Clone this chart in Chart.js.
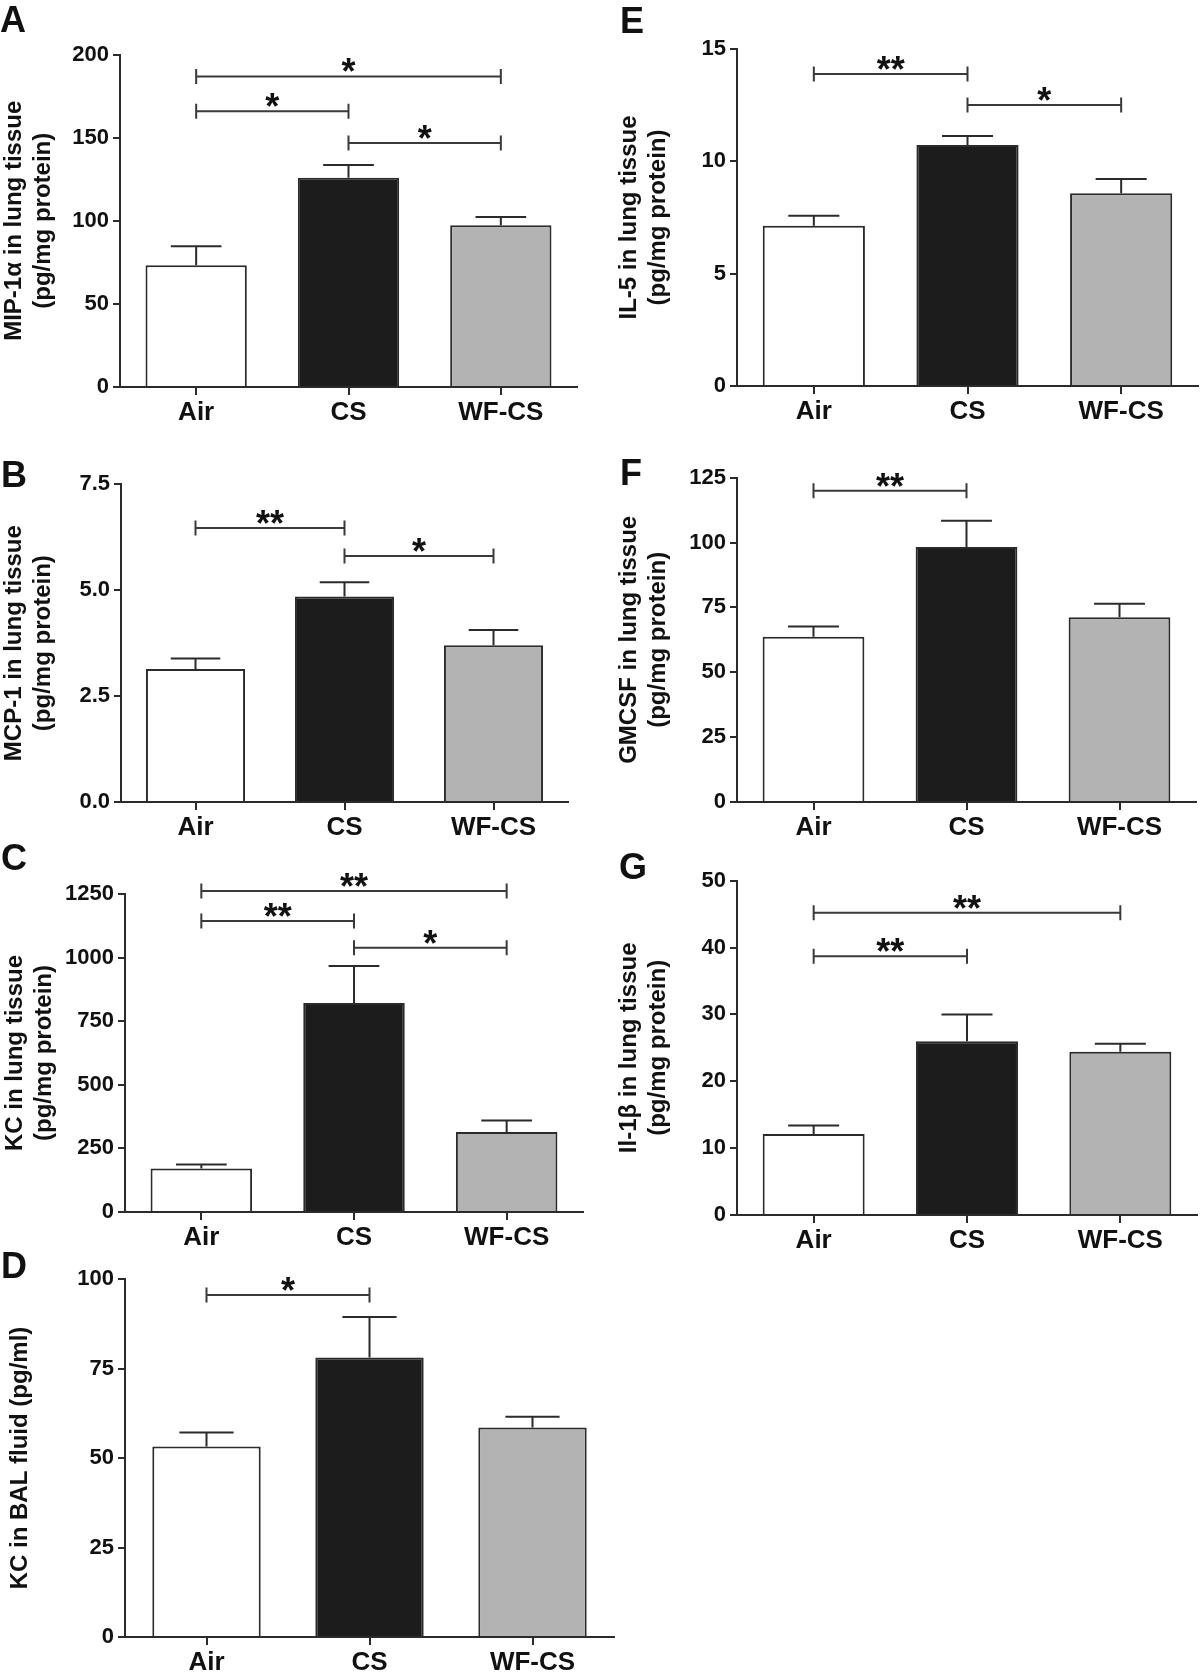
<!DOCTYPE html>
<html>
<head>
<meta charset="utf-8">
<script src="https://cdn.jsdelivr.net/npm/chart.js@4.4.1/dist/chart.umd.min.js"></script>
<style>
  body { margin: 0; background: #fff; }
  #fig { position: relative; width: 1200px; height: 1675px; overflow: hidden; font-family: "Liberation Sans", Arial, sans-serif; }
  #fig canvas { position: absolute; }
  .tag { position: absolute; font-weight: bold; font-size: 36px; line-height: 36px; color: #111; }
</style>
</head>
<body>
<div id="fig"></div>
<script>
const groups = ['Air', 'CS', 'WF-CS'];
const barColors = ['#ffffff', '#1c1c1c', '#b3b3b3'];

// A - MIP-1a
const mipMean = [73.2, 125.8, 97.3];
const mipSem = [11.5, 7.8, 5.0];
const mipTicks = [0, 50, 100, 150, 200];
const mipSig = [[186.8, 0, 2, '*'], [165.9, 0, 1, '*'], [146.8, 1, 2, '*']];

// B - MCP-1
const mcpMean = [3.14, 4.85, 3.70];
const mcpSem = [0.25, 0.34, 0.36];
const mcpTicks = [0, 2.5, 5, 7.5];
const mcpSig = [[6.47, 0, 1, '**'], [5.81, 1, 2, '*']];

// C - KC lung
const kcMean = [171, 822, 314];
const kcSem = [16, 145, 46];
const kcTicks = [0, 250, 500, 750, 1000, 1250];
const kcSig = [[1262, 0, 2, '**'], [1144, 0, 1, '**'], [1039, 1, 2, '*']];

// D - KC BAL
const balMean = [53.2, 78.1, 58.5];
const balSem = [3.9, 11.3, 3.0];
const balTicks = [0, 25, 50, 75, 100];
const balSig = [[95.5, 0, 1, '*']];

// E - IL-5
const il5Mean = [7.13, 10.73, 8.58];
const il5Sem = [0.45, 0.40, 0.63];
const il5Ticks = [0, 5, 10, 15];
const il5Sig = [[13.89, 0, 1, '**'], [12.51, 1, 2, '*']];

// F - GMCSF
const gmMean = [63.7, 98.3, 71.2];
const gmSem = [3.9, 10.1, 5.2];
const gmTicks = [0, 25, 50, 75, 100, 125];
const gmSig = [[120.0, 0, 1, '**']];

// G - IL-1b
const il1Mean = [12.1, 26.0, 24.4];
const il1Sem = [1.3, 4.0, 1.2];
const il1Ticks = [0, 10, 20, 30, 40, 50];
const il1Sig = [[45.2, 0, 2, '**'], [38.7, 0, 1, '**']];

const ink = '#111';
const lineCol = '#2b2b2b';
Chart.defaults.font.family = "'Liberation Sans', Arial, sans-serif";

const panels = [
  { tag: 'A', tagX: 0, tagY: 2, title: ['MIP-1\u03b1 in lung tissue', '(pg/mg protein)'], mean: mipMean, sem: mipSem, ticks: mipTicks, sig: mipSig, dec: 0,
    left: 0, axisX: 120, xEnd: 577, top: 54.5, zero: 386.5, titlePad: 0 },
  { tag: 'B', tagX: 1, tagY: 457, title: ['MCP-1 in lung tissue', '(pg/mg protein)'], mean: mcpMean, sem: mcpSem, ticks: mcpTicks, sig: mcpSig, dec: 1,
    left: 0, axisX: 121, xEnd: 568, top: 484.3, zero: 802.3, titlePad: 0 },
  { tag: 'C', tagX: 1, tagY: 840, title: ['KC in lung tissue', '(pg/mg protein)'], mean: kcMean, sem: kcSem, ticks: kcTicks, sig: kcSig, dec: 0,
    left: 0, axisX: 125, xEnd: 583, top: 894, zero: 1211.7, titlePad: 1 },
  { tag: 'D', tagX: 1, tagY: 1248, title: 'KC in BAL fluid (pg/ml)', mean: balMean, sem: balSem, ticks: balTicks, sig: balSig, dec: 0,
    left: 0, axisX: 125, xEnd: 614, top: 1279, zero: 1637.3, titlePad: 6 },
  { tag: 'E', tagX: 620, tagY: 3, title: ['IL-5 in lung tissue', '(pg/mg protein)'], mean: il5Mean, sem: il5Sem, ticks: il5Ticks, sig: il5Sig, dec: 0,
    left: 600, axisX: 737, xEnd: 1198, top: 49, zero: 386, titlePad: 15 },
  { tag: 'F', tagX: 620, tagY: 455, title: ['GMCSF in lung tissue', '(pg/mg protein)'], mean: gmMean, sem: gmSem, ticks: gmTicks, sig: gmSig, dec: 0,
    left: 600, axisX: 737, xEnd: 1196, top: 477.7, zero: 802.3, titlePad: 15 },
  { tag: 'G', tagX: 619, tagY: 849, title: ['Il-1\u03b2 in lung tissue', '(pg/mg protein)'], mean: il1Mean, sem: il1Sem, ticks: il1Ticks, sig: il1Sig, dec: 0,
    left: 600, axisX: 737, xEnd: 1197, top: 880.7, zero: 1215, titlePad: 15 }
];

// upper error bars with a cap half as wide as the bar
const errorBars = {
  id: 'errorBars',
  afterDatasetsDraw(chart, args, opts) {
    const ctx = chart.ctx, y = chart.scales.y;
    const meta = chart.getDatasetMeta(0);
    ctx.save();
    ctx.strokeStyle = lineCol;
    ctx.lineWidth = 2;
    meta.data.forEach((bar, i) => {
      const v = chart.data.datasets[0].data[i] + opts.sem[i];
      const yt = y.getPixelForValue(v);
      const half = bar.width / 4;
      ctx.beginPath();
      ctx.moveTo(bar.x, bar.y);
      ctx.lineTo(bar.x, yt);
      ctx.moveTo(bar.x - half, yt);
      ctx.lineTo(bar.x + half, yt);
      ctx.stroke();
    });
    ctx.restore();
  }
};

// significance brackets with stars
const brackets = {
  id: 'brackets',
  afterDraw(chart, args, opts) {
    const ctx = chart.ctx, x = chart.scales.x, y = chart.scales.y;
    ctx.save();
    ctx.strokeStyle = '#3a3a3a';
    ctx.lineWidth = 2;
    ctx.fillStyle = ink;
    ctx.font = "bold 36px 'Liberation Sans', Arial, sans-serif";
    ctx.textAlign = 'center';
    ctx.textBaseline = 'alphabetic';
    opts.sig.forEach(s => {
      const yy = y.getPixelForValue(s[0]);
      const x1 = x.getPixelForValue(s[1]);
      const x2 = x.getPixelForValue(s[2]);
      ctx.beginPath();
      ctx.moveTo(x1, yy); ctx.lineTo(x2, yy);
      ctx.moveTo(x1, yy - 7.5); ctx.lineTo(x1, yy + 7.5);
      ctx.moveTo(x2, yy - 7.5); ctx.lineTo(x2, yy + 7.5);
      ctx.stroke();
      const m = ctx.measureText(s[3]);
      ctx.fillText(s[3], (x1 + x2) / 2, yy - 4 - m.actualBoundingBoxDescent);
    });
    ctx.restore();
  }
};

const fig = document.getElementById('fig');

panels.forEach(p => {
  const cTop = Math.round(p.top - 52);
  const cBottom = Math.round(p.zero + 46);
  const w = p.xEnd - p.left + 2;
  const h = cBottom - cTop;
  const canvas = document.createElement('canvas');
  canvas.width = w; canvas.height = h;
  canvas.style.left = p.left + 'px';
  canvas.style.top = cTop + 'px';
  canvas.style.width = w + 'px';
  canvas.style.height = h + 'px';
  fig.appendChild(canvas);

  const tag = document.createElement('div');
  tag.className = 'tag';
  tag.textContent = p.tag;
  tag.style.left = p.tagX + 'px';
  tag.style.top = p.tagY + 'px';
  fig.appendChild(tag);

  new Chart(canvas, {
    type: 'bar',
    data: {
      labels: groups,
      datasets: [{
        data: p.mean,
        backgroundColor: barColors,
        borderColor: lineCol,
        borderWidth: 2,
        barPercentage: 0.665,
        categoryPercentage: 1
      }]
    },
    plugins: [errorBars, brackets],
    options: {
      responsive: false,
      animation: false,
      devicePixelRatio: 1,
      layout: { padding: { top: p.top - cTop, right: 2, left: 0, bottom: 0 } },
      plugins: {
        legend: { display: false },
        tooltip: { enabled: false },
        errorBars: { sem: p.sem },
        brackets: { sig: p.sig }
      },
      scales: {
        x: {
          offset: true,
          grid: { offset: false, drawOnChartArea: false, tickLength: 8, color: lineCol, lineWidth: 2 },
          border: { color: lineCol, width: 2 },
          ticks: { color: ink, font: { size: 26, weight: 'bold' }, padding: 2, maxRotation: 0 },
          afterFit: s => { s.height = 46; }
        },
        y: {
          min: p.ticks[0],
          max: p.ticks[p.ticks.length - 1],
          afterBuildTicks: s => { s.ticks = p.ticks.map(v => ({ value: v })); },
          grid: { drawOnChartArea: false, tickLength: 7, color: lineCol, lineWidth: 2 },
          border: { color: lineCol, width: 2 },
          ticks: { color: ink, font: { size: 22, weight: 'bold' }, padding: 4, callback: v => Number(v).toFixed(p.dec) },
          title: { display: true, text: p.title, color: ink, font: { size: 24, weight: 'bold', lineHeight: 1.2 }, padding: { top: p.titlePad, bottom: 0 } },
          afterFit: s => { s.width = p.axisX - p.left; }
        }
      }
    }
  });
});
</script>
</body>
</html>
